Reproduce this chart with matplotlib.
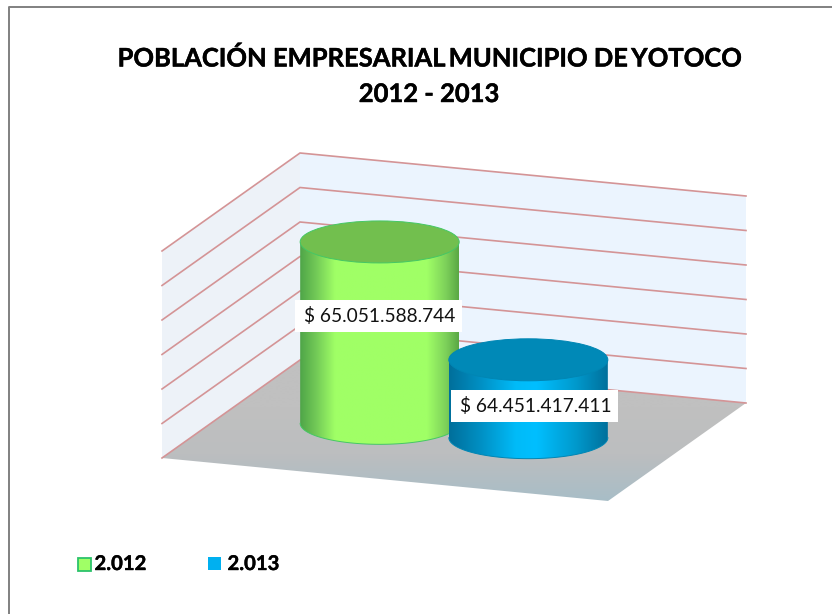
import matplotlib
matplotlib.use('Agg')
import matplotlib.pyplot as plt
import matplotlib.patheffects as pe
from matplotlib.colors import LinearSegmentedColormap
from matplotlib.patches import Ellipse, Polygon, Rectangle
import numpy as np

title_lines = ['POBLACIÓN EMPRESARIAL\u2009MUNICIPIO DE\u2009YOTOCO', '2012 - 2013']
categories = ['2.012', '2.013']
values = [65051588744, 64451417411]
value_labels = ['$ 65.051.588.744', '$ 64.451.417.411']
axis_ticks = [64.0e9, 64.2e9, 64.4e9, 64.6e9, 64.8e9, 65.0e9, 65.2e9]

# proyeccion de la caja 3D a pixeles de la imagen
ORIGIN = np.array([300.0, 360.0])
VEC_X = np.array([446.0, 43.0])
VEC_D = np.array([-138.0, 98.0])
PX_PER_UNIT = 207.0 / (axis_ticks[-1] - axis_ticks[0])
RX, RY = 79.5, 21.0


def project(x, d, value):
    p = ORIGIN + x * VEC_X + d * VEC_D
    return p[0], p[1] - (value - axis_ticks[0]) * PX_PER_UNIT


def gradient_fill(ax, patch, colors, vertical=False, zorder=2):
    cmap = LinearSegmentedColormap.from_list('g', colors)
    xs, ys = patch.get_xy()[:, 0], patch.get_xy()[:, 1]
    grad = np.linspace(0, 1, 256).reshape(-1, 1) if vertical else np.linspace(0, 1, 256).reshape(1, -1)
    im = ax.imshow(grad, cmap=cmap, aspect='auto', zorder=zorder, interpolation='bilinear',
                   extent=(xs.min(), xs.max(), ys.max(), ys.min()))
    ax.add_patch(patch)
    patch.set_facecolor('none')
    patch.set_edgecolor('none')
    im.set_clip_path(patch)


def draw_cylinder(ax, x_pos, value, side_colors, top_color, edge_color, zorder):
    cx, base_y = project(x_pos, 0.5, axis_ticks[0])
    _, top_y = project(x_pos, 0.5, value)
    t = np.linspace(0, np.pi, 80)
    front_x = cx + RX * np.cos(t)
    front_y = base_y + RY * np.sin(t)
    side = np.vstack([np.column_stack([front_x, front_y]),
                      [[cx - RX, top_y], [cx + RX, top_y]]])
    gradient_fill(ax, Polygon(side, closed=True), side_colors, zorder=zorder)
    ax.plot(front_x, front_y, color=edge_color, lw=0.7, zorder=zorder + 0.1)
    ax.add_patch(Ellipse((cx, top_y), 2 * RX, 2 * RY, facecolor=top_color,
                         edgecolor=edge_color, lw=0.7, zorder=zorder + 0.2))


fig = plt.figure(figsize=(8.32, 6.14), dpi=100)
ax = fig.add_axes([0, 0, 1, 1])
plt.rcParams['font.family'] = ['Lato', 'DejaVu Sans']
heavy = [pe.withStroke(linewidth=0.3, foreground='black')]

# paredes y piso
front_l = project(0, 1, axis_ticks[0])
back_l = project(0, 0, axis_ticks[0])
back_r = project(1, 0, axis_ticks[0])
front_r = project(1, 1, axis_ticks[0])
top_back_l = project(0, 0, axis_ticks[-1])
top_back_r = project(1, 0, axis_ticks[-1])
top_front_l = project(0, 1, axis_ticks[-1])

ax.add_patch(Polygon([front_l, back_l, top_back_l, top_front_l], facecolor='#edf2f8', edgecolor='none', zorder=1))
ax.add_patch(Polygon([back_l, back_r, top_back_r, top_back_l], facecolor='#ebf4fe', edgecolor='none', zorder=1))
gradient_fill(ax, Polygon([front_l, back_l, back_r, front_r], closed=True),
              ['#c0c0c0', '#c0c0c0', '#bcbebf', '#a8bdc7'], vertical=True, zorder=1)

for tick in axis_ticks:
    pts = [project(0, 1, tick), project(0, 0, tick), project(1, 0, tick)]
    ax.plot([p[0] for p in pts], [p[1] for p in pts], color='#d49496', lw=1.2, zorder=1.5,
            solid_joinstyle='miter')

green_side = [(0, '#4fa548'), (0.1, '#72c957'), (0.22, '#a0ff66'), (0.8, '#a0ff66'), (0.92, '#7dd05a'), (1, '#5aa845')]
blue_side = [(0, '#006f9b'), (0.2, '#0090c4'), (0.42, '#00bbf8'), (0.55, '#00bfff'), (0.8, '#0099cc'), (1, '#00709c')]
draw_cylinder(ax, 1 / 3, values[0], green_side, '#72bf4e', '#45c765', 3)
draw_cylinder(ax, 2 / 3, values[1], blue_side, '#0089b7', '#0086b4', 4)

# etiquetas de datos
label_boxes = [(295, 300, 167, 32), (451, 390, 167, 32)]
for text, (bx, by, bw, bh) in zip(value_labels, label_boxes):
    ax.add_patch(Rectangle((bx, by), bw, bh, facecolor='white', edgecolor='none', zorder=6))
    ax.text(bx + bw / 2 + 1.5, by + bh / 2 + 0.5, text, ha='center', va='center', fontsize=13.8,
            color='#111111', zorder=7)

# titulo
for line, y in zip(title_lines, [58, 94]):
    ax.text(429, y, line, ha='center', va='center', fontsize=18.4, fontweight='bold', color='black',
            path_effects=heavy)

# leyenda
ax.add_patch(Rectangle((77.5, 557.5), 13, 13.5, facecolor='#a0ff66', edgecolor='#2cc36b', lw=1.3))
ax.add_patch(Rectangle((208, 557), 13, 13, facecolor='#00b0f0', edgecolor='none'))
ax.text(94.5, 564, categories[0], ha='left', va='center', fontsize=14.6, fontweight='bold', color='black',
        path_effects=heavy)
ax.text(227.5, 564, categories[1], ha='left', va='center', fontsize=14.6, fontweight='bold', color='black',
        path_effects=heavy)

# marco
ax.plot([8.5, 8.5, 832], [614, 7, 7], color='#808080', lw=1.4, zorder=8)

ax.set_xlim(0, 832)
ax.set_ylim(614, 0)
ax.axis('off')
fig.savefig('out.png', dpi=100)
